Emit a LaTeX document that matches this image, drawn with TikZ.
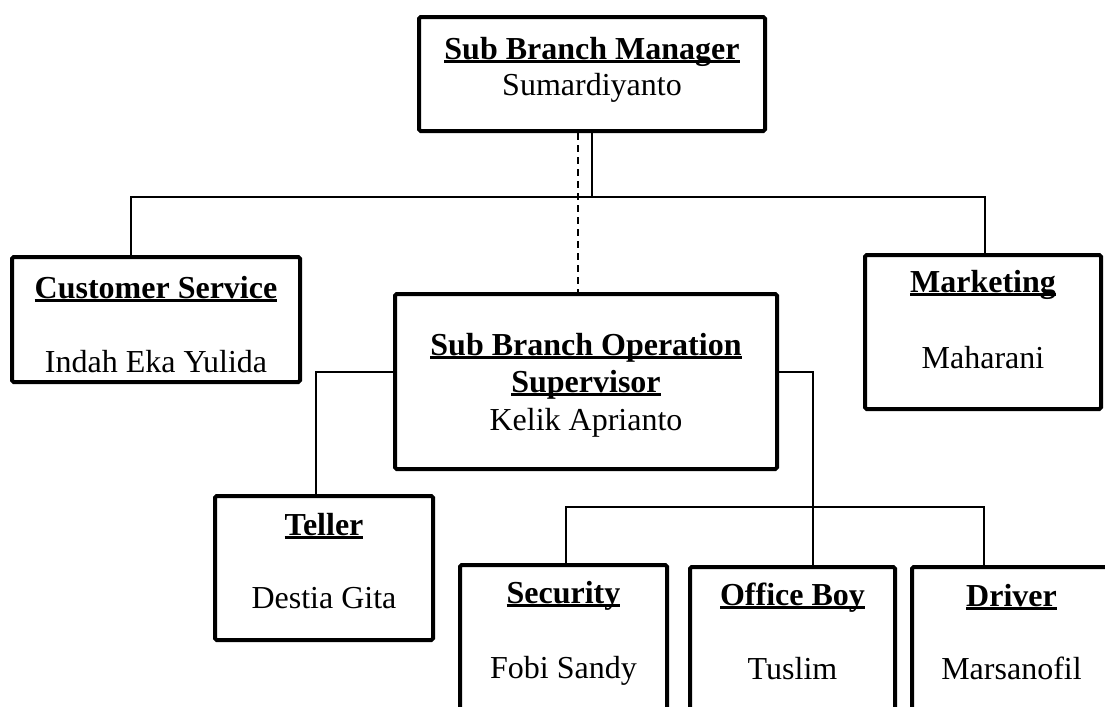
\documentclass[tikz,border=0pt]{standalone}
\usepackage{fontspec}
\setmainfont{Liberation Serif}
\newcommand{\judul}[1]{\setbox0=\hbox{\bfseries #1}\rlap{\rule[-2.2pt]{\wd0}{1.5pt}}\box0}

\begin{document}
\begin{tikzpicture}[x=0.5pt, y=-0.5pt,
        every node/.style={font=\fontsize{16}{18}\selectfont},
        kotak/.style={draw, line width=2pt, rounded corners=0.8pt, inner sep=0pt},
        teks/.style={anchor=base, inner sep=0pt},
        garis/.style={line width=0.9pt},
        putus/.style={line width=0.9pt, dash pattern=on 3.5pt off 2.5pt}]
        \useasboundingbox (0,0) rectangle (1105,707);
        \clip (0,0) rectangle (1105,707);

        % Sub Branch Manager
        \node[kotak, minimum width=173pt, minimum height=57pt] (sbm) at (592,74) {};
        \node[teks] (sbm-j) at (592,59) {\judul{Sub Branch Manager}};
        \node[teks] (sbm-n) at (592,95) {Sumardiyanto};

        % Customer Service dan Marketing
        \node[kotak, minimum width=144pt, minimum height=62.5pt] (cs) at (156,319.5) {};
        \node[teks] (cs-j) at (156,298) {\judul{Customer Service}};
        \node[teks] (cs-n) at (156,372) {Indah Eka Yulida};

        \node[kotak, minimum width=118pt, minimum height=77pt] (mkt) at (983,332) {};
        \node[teks] (mkt-j) at (983,292) {\judul{Marketing}};
        \node[teks] (mkt-n) at (983,368) {Maharani};

        % Sub Branch Operation Supervisor
        \node[kotak, minimum width=191pt, minimum height=87.5pt] (sbos) at (586,381.5) {};
        \node[teks] (sbos-j1) at (586,355) {\judul{Sub Branch Operation}};
        \node[teks] (sbos-j2) at (586,392) {\judul{Supervisor}};
        \node[teks] (sbos-n) at (586,430) {Kelik Aprianto};

        % Teller
        \node[kotak, minimum width=109pt, minimum height=72pt] (tel) at (324,568) {};
        \node[teks] (tel-j) at (324,535) {\judul{Teller}};
        \node[teks] (tel-n) at (324,608) {Destia Gita};

        % Security, Office Boy, Driver (terpotong di bawah)
        \node[kotak, minimum width=103.5pt, minimum height=96.5pt] (sec) at (563.5,661.5) {};
        \node[teks] (sec-j) at (563.5,603) {\judul{Security}};
        \node[teks] (sec-n) at (563.5,678) {Fobi Sandy};

        \node[kotak, minimum width=102.5pt, minimum height=96.5pt] (ob) at (792.5,663.5) {};
        \node[teks] (ob-j) at (792.5,605) {\judul{Office Boy}};
        \node[teks] (ob-n) at (792.5,679) {Tuslim};

        \node[kotak, minimum width=99.5pt, minimum height=96.5pt] (drv) at (1011.5,663.5) {};
        \node[teks] (drv-j) at (1011.5,606) {\judul{Driver}};
        \node[teks] (drv-n) at (1011.5,679) {Marsanofil};

        % Garis hubung
        \coordinate (t1) at (131,197);
        \coordinate (t2) at (985,197);
        \coordinate (d) at (578,0);
        \coordinate (k1) at (316,372);
        \coordinate (k2) at (813,372);
        \coordinate (b1) at (566,507);
        \coordinate (b2) at (984,507);

        \draw[garis] (sbm.south) -- (sbm.south |- t1);
        \draw[garis] (cs.north -| t1) -- (t1) -- (t2) -- (mkt.north -| t2);
        \draw[putus] (sbm.south -| d) -- (sbos.north -| d);
        \draw[garis] (sbos.west |- k1) -- (k1) -- (tel.north -| k1);
        \draw[garis] (sbos.east |- k2) -- (k2) -- (ob.north -| k2);
        \draw[garis] (sec.north -| b1) -- (b1) -- (b2) -- (drv.north -| b2);
\end{tikzpicture}
\end{document}
